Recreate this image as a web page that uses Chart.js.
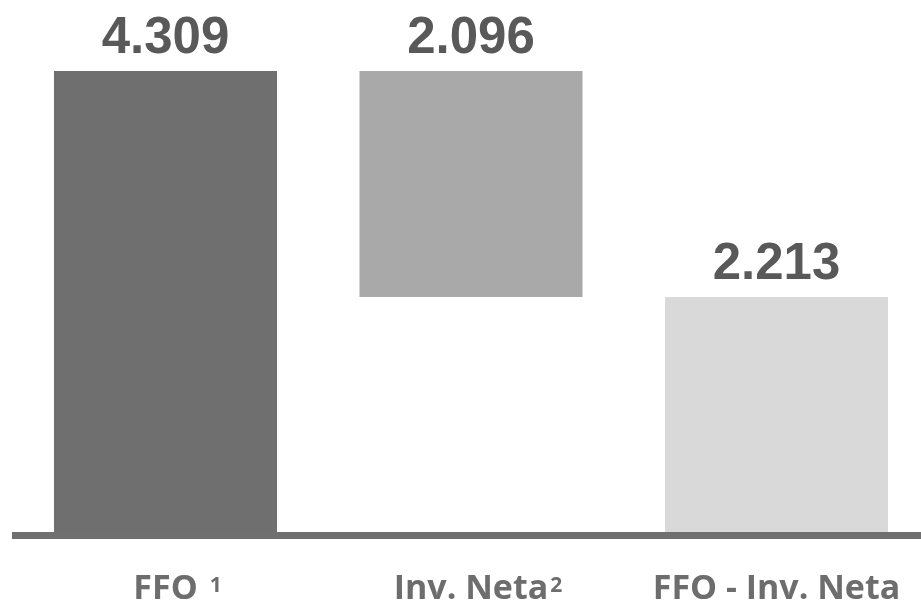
<!DOCTYPE html>
<html>
<head>
<meta charset="utf-8">
<script src="https://cdn.jsdelivr.net/npm/chart.js@4"></script>
<style>
  html, body { margin: 0; padding: 0; background: #ffffff; overflow: hidden; }
  #wrap { width: 921px; height: 602px; overflow: hidden; position: relative; }
  canvas { display: block; }
</style>
</head>
<body>
<div id="wrap"><canvas id="c" width="930" height="602"></canvas></div>
<script>
// ---- data ----
const categories = ['FFO', 'Inv. Neta', 'FFO - Inv. Neta'];
const notes = ['1', '2', ''];
const noteGaps = [12, 2, 0];
const values = [4309, -2096, 2213];   // waterfall steps; last is the total
const isTotal = [false, false, true];
const valueLabels = ['4.309', '2.096', '2.213'];
const barColors = ['#6f6f6f', '#a9a9a9', '#d9d9d9'];

// build floating ranges from the steps
const ranges = [];
let running = 0;
values.forEach((v, i) => {
  if (isTotal[i]) { ranges.push([0, v]); running = v; }
  else { const start = running; running += v; ranges.push([Math.min(start, running), Math.max(start, running)]); }
});

const labelPlugin = {
  id: 'labels',
  afterDatasetsDraw(chart) {
    const ctx = chart.ctx;
    const area = chart.chartArea;
    const y0 = chart.scales.y.getPixelForValue(0);
    ctx.save();
    ctx.strokeStyle = '#707070';
    ctx.lineWidth = 7;
    ctx.beginPath();
    ctx.moveTo(area.left - 0.75, y0);
    ctx.lineTo(area.right + 5, y0);
    ctx.stroke();
    ctx.restore();
  },
  afterDraw(chart) {
    const ctx = chart.ctx;
    const meta = chart.getDatasetMeta(0);
    ctx.save();
    meta.data.forEach((el, i) => {
      const top = Math.min(el.y, el.base);
      ctx.font = 'bold 51px "Liberation Sans", Arial, sans-serif';
      ctx.fillStyle = '#595959';
      ctx.textAlign = 'center';
      ctx.textBaseline = 'alphabetic';
      ctx.fillText(valueLabels[i], el.x, top - 18);
      ctx.font = 'bold 34px "Open Sans", sans-serif';
      ctx.fillStyle = '#6d6d6d';
      ctx.textAlign = 'center';
      ctx.fillText(categories[i], el.x, 599);
      if (notes[i]) {
        const w = ctx.measureText(categories[i]).width;
        ctx.font = 'bold 21px "Open Sans", sans-serif';
        ctx.textAlign = 'left';
        ctx.fillText(notes[i], el.x + w / 2 + noteGaps[i], 592);
      }
    });
    ctx.restore();
  }
};

new Chart(document.getElementById('c'), {
  type: 'bar',
  data: {
    labels: categories,
    datasets: [{
      data: ranges,
      backgroundColor: barColors,
      borderWidth: 0,
      borderSkipped: false,
      barPercentage: 0.73,
      categoryPercentage: 1.0
    }]
  },
  options: {
    responsive: false,
    animation: false,
    devicePixelRatio: 1,
    layout: { padding: { left: 12.75, right: 0.75, top: 0, bottom: 66.4 } },
    plugins: { legend: { display: false }, tooltip: { enabled: false } },
    scales: {
      x: {
        grid: { display: false, drawTicks: false },
        ticks: { display: false },
        border: { display: false }
      },
      y: {
        display: false,
        min: 0,
        max: 4967
      }
    }
  },
  plugins: [labelPlugin]
});
</script>
</body>
</html>
